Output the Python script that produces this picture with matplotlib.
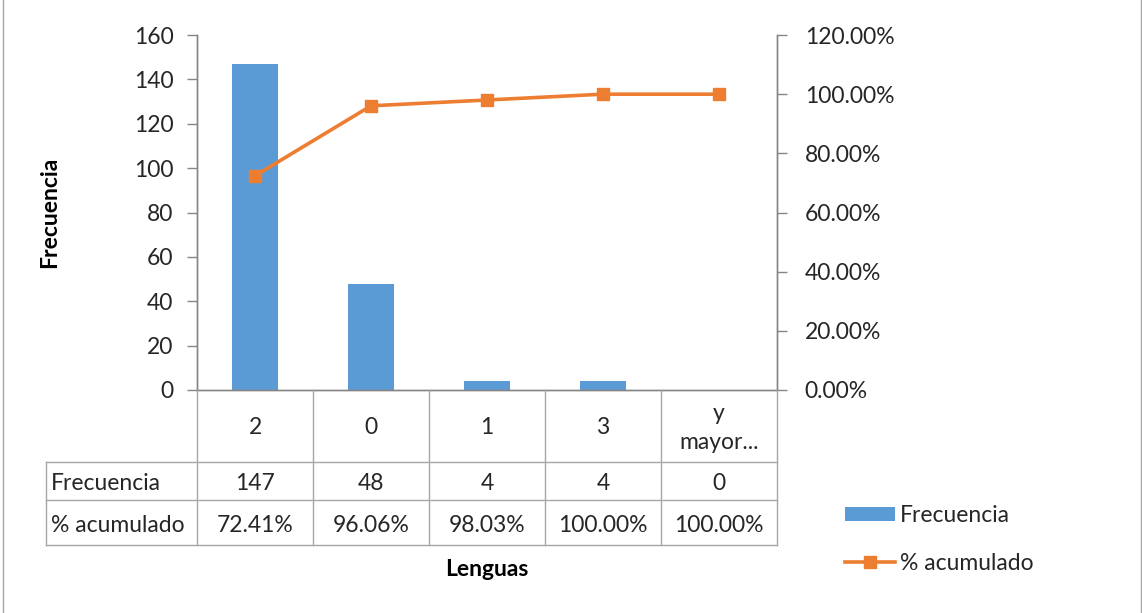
import matplotlib
matplotlib.use("Agg")
import matplotlib.pyplot as plt
from matplotlib.transforms import blended_transform_factory
from matplotlib.lines import Line2D
from matplotlib.patches import Patch
from matplotlib.ticker import FuncFormatter

categories = ["2", "0", "1", "3", "y\nmayor..."]
frecuencia = [147, 48, 4, 4, 0]
acumulado = [72.41, 96.06, 98.03, 100.00, 100.00]
acum_labels = ["72.41%", "96.06%", "98.03%", "100.00%", "100.00%"]
left_ticks = [0, 20, 40, 60, 80, 100, 120, 140, 160]
right_ticks = [0, 20, 40, 60, 80, 100, 120]

BLUE = "#5B9BD5"
ORANGE = "#ED7D31"
GRID = "#A6A6A6"
AX = "#868686"
FONT = "Lato"
FS = 16.5

plt.rcParams["font.family"] = [FONT, "DejaVu Sans"]

W, H = 1142, 613
fig = plt.figure(figsize=(W / 100, H / 100), dpi=100)

def fx(px):
    return px / W

def fy(py):
    return 1 - py / H

ax = fig.add_axes([fx(197), fy(390), fx(777) - fx(197), fy(35) - fy(390)])
x = list(range(len(categories)))
ax.bar(x, frecuencia, width=0.4, color=BLUE, zorder=2)
ax.set_xlim(-0.5, len(categories) - 0.5)
ax.set_ylim(0, 160)
ax.set_yticks(left_ticks)
ax.set_xticks([])
ax2 = ax.twinx()
ax2.plot(x, acumulado, color=ORANGE, lw=2.6, marker="s", ms=9, zorder=3)
ax2.set_ylim(0, 120)
ax2.set_yticks(right_ticks)
ax2.yaxis.set_major_formatter(FuncFormatter(lambda v, p: f"{v:.2f}%"))

for a in (ax, ax2):
    a.spines["top"].set_visible(False)
    for s in ("left", "right", "bottom"):
        a.spines[s].set_color(AX)
        a.spines[s].set_linewidth(1.0)
    a.tick_params(axis="y", length=7, width=1, color=AX, labelsize=FS,
                  labelcolor="#262626", pad=10)
    a.patch.set_visible(False)
ax2.tick_params(axis="y", pad=13)

ax.set_ylabel("Frecuencia", fontsize=FS, fontweight="bold", color="black")
ax.yaxis.set_label_coords((60 - 197) / 580, (390 - 212) / 355)

# table
tr = blended_transform_factory(ax.transData, fig.transFigure)
bounds = [i - 0.5 for i in range(len(categories) + 1)]
row_y = [390, 462, 500, 545]
lkw = dict(color=GRID, lw=1.0, transform=tr, clip_on=False)
for b in bounds:
    fig.add_artist(Line2D([b, b], [fy(390), fy(545)], **lkw))
left_x = fx(46)
for py in row_y[1:]:
    fig.add_artist(Line2D([left_x, fx(777)], [fy(py), fy(py)], color=GRID, lw=1.0,
                          transform=fig.transFigure))
fig.add_artist(Line2D([left_x, left_x], [fy(462), fy(545)], color=GRID, lw=1.0,
                      transform=fig.transFigure))

tc = "#262626"
for i, c in enumerate(categories):
    fig.text(i, fy(428), c, transform=tr, ha="center", va="center", fontsize=FS,
             color=tc, linespacing=1.45)
    fig.text(i, fy(484), str(frecuencia[i]), transform=tr, ha="center", va="center",
             fontsize=FS, color=tc)
    fig.text(i, fy(525), acum_labels[i], transform=tr, ha="center", va="center",
             fontsize=FS, color=tc)
fig.text(fx(51), fy(484), "Frecuencia", ha="left", va="center", fontsize=FS, color=tc)
fig.text(fx(51), fy(525), "% acumulado", ha="left", va="center", fontsize=FS, color=tc)

fig.text(fx(487), fy(570), "Lenguas", ha="center", va="center", fontsize=FS,
         fontweight="bold", color="black")

handles = [Patch(facecolor=BLUE, edgecolor="none"),
           Line2D([], [], color=ORANGE, lw=2.6, marker="s", ms=9)]
fig.legend(handles, ["Frecuencia", "% acumulado"], loc="upper left",
           bbox_to_anchor=(fx(845), fy(505)), frameon=False, fontsize=FS,
           handlelength=2.2, handleheight=0.6, handletextpad=0.2,
           labelspacing=1.17, borderpad=0, borderaxespad=0,
           labelcolor=tc)

# outer border lines
fig.add_artist(Line2D([fx(2.5), fx(2.5)], [0, 1], color=GRID, lw=1.0,
                      transform=fig.transFigure))
fig.add_artist(Line2D([fx(1140.5), fx(1140.5)], [0, 1], color=GRID, lw=1.0,
                      transform=fig.transFigure))

fig.savefig("out.png", dpi=100)
